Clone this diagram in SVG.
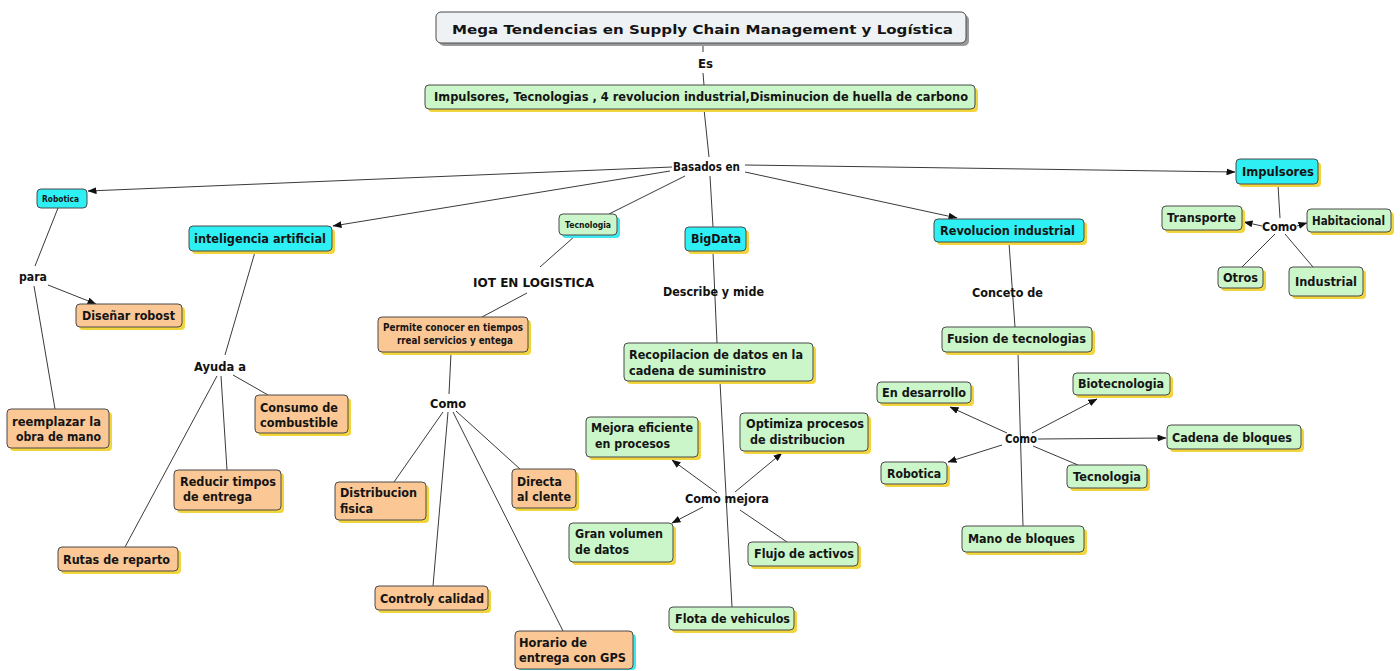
<svg xmlns="http://www.w3.org/2000/svg" width="1400" height="671" viewBox="0 0 1400 671">
<style>
.bx{stroke:#4a4a4a;stroke-width:1}
.cy{fill:#2ef0f4}
.gr{fill:#cbf6c9}
.or{fill:#fbc795}
.sh{fill:#f2d53c}
.shc{fill:#3ee8f0}
.t{font-family:"DejaVu Sans","Liberation Sans",sans-serif;font-weight:bold;font-size:13px;fill:#141414}
.s{font-size:9px}
.m{font-size:11px}
.lb{font-family:"DejaVu Sans","Liberation Sans",sans-serif;font-weight:bold;font-size:12.5px;fill:#111}
.c line{stroke:#3a3a3a;stroke-width:1}
.a{marker-end:url(#ah)}
</style>
<defs>
<marker id="ah" markerWidth="9" markerHeight="7" refX="8.5" refY="3.5" orient="auto" markerUnits="userSpaceOnUse">
<path d="M0,0 L9,3.5 L0,7 z" fill="#111"/>
</marker>
</defs>
<rect width="1400" height="671" fill="#fff"/>

<g id="connectors" class="c">
<line x1="703" y1="42" x2="703" y2="52"/>
<line x1="703" y1="73" x2="704" y2="85"/>
<line x1="704" y1="109" x2="709" y2="157"/>
<line x1="710" y1="176" x2="713" y2="227"/>
<line class="a" x1="672" y1="167" x2="88" y2="191"/>
<line class="a" x1="670" y1="171" x2="333" y2="226"/>
<line x1="685" y1="176" x2="609" y2="214"/>
<line class="a" x1="745" y1="172" x2="957" y2="218"/>
<line class="a" x1="745" y1="165" x2="1235" y2="172"/>
<line x1="58" y1="208" x2="35" y2="266"/>
<line class="a" x1="48" y1="285" x2="96" y2="304"/>
<line x1="34" y1="286" x2="55" y2="409"/>
<line x1="255" y1="252" x2="225" y2="355"/>
<line x1="233" y1="375" x2="268" y2="395"/>
<line x1="221" y1="376" x2="227" y2="470"/>
<line x1="217" y1="376" x2="125" y2="547"/>
<line x1="575" y1="236" x2="540" y2="267"/>
<line x1="527" y1="293" x2="482" y2="317"/>
<line x1="451" y1="353" x2="449" y2="394"/>
<line x1="443" y1="412" x2="394" y2="482"/>
<line x1="448" y1="412" x2="433" y2="586"/>
<line x1="453" y1="412" x2="563" y2="631"/>
<line x1="456" y1="411" x2="520" y2="469"/>
<line x1="713" y1="252" x2="717" y2="343"/>
<line x1="720" y1="382" x2="732" y2="607"/>
<line class="a" x1="717" y1="493" x2="672" y2="460"/>
<line class="a" x1="735" y1="492" x2="782" y2="453"/>
<line class="a" x1="703" y1="507" x2="672" y2="523"/>
<line x1="740" y1="510" x2="787" y2="542"/>
<line x1="1009" y1="243" x2="1015" y2="327"/>
<line x1="1018" y1="353" x2="1023" y2="526"/>
<line class="a" x1="1007" y1="433" x2="950" y2="407"/>
<line class="a" x1="1032" y1="433" x2="1097" y2="399"/>
<line class="a" x1="1038" y1="439" x2="1166" y2="438"/>
<line class="a" x1="1002" y1="445" x2="948" y2="462"/>
<line x1="1033" y1="446" x2="1078" y2="465"/>
<line x1="1278" y1="185" x2="1280" y2="218"/>
<line class="a" x1="1262" y1="226" x2="1244" y2="222"/>
<line class="a" x1="1297" y1="226" x2="1307" y2="223"/>
<line x1="1275" y1="234" x2="1242" y2="267"/>
<line x1="1285" y1="234" x2="1313" y2="267"/>
</g>

<g id="labels">
<text class="lb" x="698" y="68" textLength="15" lengthAdjust="spacingAndGlyphs">Es</text>
<rect x="672" y="158" width="70" height="16" fill="#fff"/>
<text class="lb" x="673" y="171" textLength="67" lengthAdjust="spacingAndGlyphs">Basados en</text>
<text class="lb" x="19" y="281" textLength="28" lengthAdjust="spacingAndGlyphs">para</text>
<text class="lb" x="194" y="371" textLength="52" lengthAdjust="spacingAndGlyphs">Ayuda a</text>
<text class="lb" x="473" y="287" font-size="14" textLength="121" lengthAdjust="spacingAndGlyphs">IOT EN LOGISTICA</text>
<text class="lb" x="430" y="408" textLength="36" lengthAdjust="spacingAndGlyphs">Como</text>
<text class="lb" x="663" y="296" textLength="101" lengthAdjust="spacingAndGlyphs">Describe y mide</text>
<text class="lb" x="685" y="503" textLength="84" lengthAdjust="spacingAndGlyphs">Como mejora</text>
<text class="lb" x="972" y="297" textLength="71" lengthAdjust="spacingAndGlyphs">Conceto de</text>
<text class="lb" x="1005" y="443" font-size="11" textLength="32" lengthAdjust="spacingAndGlyphs">Como</text>
<text class="lb" x="1262" y="231" textLength="35" lengthAdjust="spacingAndGlyphs">Como</text>
</g>

<g id="title">
<rect x="439" y="15" width="530" height="31" rx="5" fill="#9a9a9a"/>
<rect class="bx" x="436" y="12" width="530" height="31" rx="5" fill="#eef2f4" stroke="#333"/>
<text class="t" x="452" y="34" font-size="18" textLength="501" lengthAdjust="spacingAndGlyphs">Mega Tendencias en Supply Chain Management y Logística</text>
</g>

<g id="main">
<rect class="sh" x="428" y="88" width="550" height="24" rx="4"/>
<rect class="bx gr" x="425" y="85" width="550" height="24" rx="4"/>
<text class="t" x="434" y="101" font-size="12.5" textLength="534" lengthAdjust="spacingAndGlyphs">Impulsores, Tecnologias , 4 revolucion industrial,Disminucion de huella de carbono</text>
</g>

<g id="robotica">
<rect class="bx cy" x="37" y="189" width="50" height="19" rx="4"/>
<text class="t s" x="42" y="202" textLength="37" lengthAdjust="spacingAndGlyphs">Robotica</text>
</g>

<g id="disenar">
<rect class="sh" x="79" y="307" width="106" height="23" rx="4"/>
<rect class="bx or" x="76" y="304" width="106" height="23" rx="4"/>
<text class="t" x="82" y="320" textLength="93" lengthAdjust="spacingAndGlyphs">Diseñar robost</text>
</g>

<g id="reemplazar">
<rect class="sh" x="10" y="412" width="102" height="39" rx="4"/>
<rect class="bx or" x="7" y="409" width="102" height="39" rx="4"/>
<text class="t" x="12" y="426" textLength="89" lengthAdjust="spacingAndGlyphs">reemplazar la</text>
<text class="t" x="16" y="441" textLength="85" lengthAdjust="spacingAndGlyphs">obra de mano</text>
</g>

<g id="ia">
<rect class="sh" x="192" y="229" width="143" height="25" rx="4"/>
<rect class="bx cy" x="189" y="226" width="143" height="25" rx="4"/>
<text class="t" x="194" y="243" textLength="132" lengthAdjust="spacingAndGlyphs">inteligencia artificial</text>
</g>

<g id="consumo">
<rect class="sh" x="258" y="398" width="93" height="38" rx="4"/>
<rect class="bx or" x="255" y="395" width="93" height="38" rx="4"/>
<text class="t" x="260" y="412" textLength="78" lengthAdjust="spacingAndGlyphs">Consumo de</text>
<text class="t" x="260" y="427" textLength="78" lengthAdjust="spacingAndGlyphs">combustible</text>
</g>

<g id="reducir">
<rect class="sh" x="177" y="473" width="107" height="40" rx="4"/>
<rect class="bx or" x="174" y="470" width="107" height="40" rx="4"/>
<text class="t" x="180" y="486" textLength="96" lengthAdjust="spacingAndGlyphs">Reducir timpos</text>
<text class="t" x="183" y="501" textLength="69" lengthAdjust="spacingAndGlyphs">de entrega</text>
</g>

<g id="rutas">
<rect class="sh" x="61" y="550" width="120" height="24" rx="4"/>
<rect class="bx or" x="58" y="547" width="120" height="24" rx="4"/>
<text class="t" x="63" y="564" textLength="107" lengthAdjust="spacingAndGlyphs">Rutas de reparto</text>
</g>

<g id="tecnologia">
<rect class="shc" x="562" y="217" width="58" height="21" rx="4"/>
<rect class="bx gr" x="559" y="214" width="58" height="21" rx="4"/>
<text class="t s" x="565" y="228" textLength="46" lengthAdjust="spacingAndGlyphs">Tecnologia</text>
</g>

<g id="permite">
<rect class="sh" x="381" y="320" width="150" height="35" rx="4"/>
<rect class="bx or" x="378" y="317" width="150" height="35" rx="4"/>
<text class="t m" x="383" y="331" textLength="140" lengthAdjust="spacingAndGlyphs">Permite conocer en tiempos</text>
<text class="t m" x="397" y="344" textLength="116" lengthAdjust="spacingAndGlyphs">rreal servicios y entega</text>
</g>

<g id="distribucion">
<rect class="sh" x="338" y="485" width="91" height="38" rx="4"/>
<rect class="bx or" x="335" y="482" width="91" height="38" rx="4"/>
<text class="t" x="340" y="497" textLength="77" lengthAdjust="spacingAndGlyphs">Distribucion</text>
<text class="t" x="340" y="513" textLength="33" lengthAdjust="spacingAndGlyphs">fisica</text>
</g>

<g id="directa">
<rect class="sh" x="515" y="472" width="64" height="39" rx="4"/>
<rect class="bx or" x="512" y="469" width="64" height="39" rx="4"/>
<text class="t" x="517" y="486" textLength="45" lengthAdjust="spacingAndGlyphs">Directa</text>
<text class="t" x="517" y="501" textLength="54" lengthAdjust="spacingAndGlyphs">al clente</text>
</g>

<g id="controly">
<rect class="sh" x="378" y="589" width="113" height="24" rx="4"/>
<rect class="bx or" x="375" y="586" width="113" height="24" rx="4"/>
<text class="t" x="380" y="603" textLength="104" lengthAdjust="spacingAndGlyphs">Controly calidad</text>
</g>

<g id="horario">
<rect class="shc" x="518" y="634" width="118" height="36" rx="4"/>
<rect class="bx or" x="515" y="631" width="118" height="38" rx="4"/>
<text class="t" x="519" y="647" textLength="68" lengthAdjust="spacingAndGlyphs">Horario de</text>
<text class="t" x="519" y="662" textLength="107" lengthAdjust="spacingAndGlyphs">entrega con GPS</text>
</g>

<g id="bigdata">
<rect class="sh" x="688" y="230" width="61" height="24" rx="4"/>
<rect class="bx cy" x="685" y="227" width="61" height="24" rx="4"/>
<text class="t" x="691" y="243" textLength="50" lengthAdjust="spacingAndGlyphs">BigData</text>
</g>

<g id="recopilacion">
<rect class="sh" x="627" y="346" width="189" height="38" rx="4"/>
<rect class="bx gr" x="624" y="343" width="189" height="38" rx="4"/>
<text class="t" x="629" y="359" textLength="174" lengthAdjust="spacingAndGlyphs">Recopilacion de datos en la</text>
<text class="t" x="629" y="375" textLength="137" lengthAdjust="spacingAndGlyphs">cadena de suministro</text>
</g>

<g id="mejora">
<rect class="sh" x="589" y="420" width="112" height="40" rx="4"/>
<rect class="bx gr" x="586" y="417" width="112" height="40" rx="4"/>
<text class="t" x="591" y="432" textLength="102" lengthAdjust="spacingAndGlyphs">Mejora eficiente</text>
<text class="t" x="595" y="448" textLength="75" lengthAdjust="spacingAndGlyphs">en procesos</text>
</g>

<g id="optimiza">
<rect class="sh" x="743" y="416" width="128" height="38" rx="4"/>
<rect class="bx gr" x="740" y="413" width="128" height="38" rx="4"/>
<text class="t" x="746" y="428" textLength="118" lengthAdjust="spacingAndGlyphs">Optimiza procesos</text>
<text class="t" x="750" y="444" textLength="95" lengthAdjust="spacingAndGlyphs">de distribucion</text>
</g>

<g id="gran">
<rect class="sh" x="572" y="526" width="104" height="39" rx="4"/>
<rect class="bx gr" x="569" y="523" width="104" height="39" rx="4"/>
<text class="t" x="575" y="538" textLength="88" lengthAdjust="spacingAndGlyphs">Gran volumen</text>
<text class="t" x="575" y="554" textLength="54" lengthAdjust="spacingAndGlyphs">de datos</text>
</g>

<g id="flujo">
<rect class="sh" x="751" y="545" width="110" height="24" rx="4"/>
<rect class="bx gr" x="748" y="542" width="110" height="24" rx="4"/>
<text class="t" x="754" y="558" textLength="100" lengthAdjust="spacingAndGlyphs">Flujo de activos</text>
</g>

<g id="flota">
<rect class="sh" x="672" y="610" width="125" height="23" rx="4"/>
<rect class="bx gr" x="669" y="607" width="125" height="23" rx="4"/>
<text class="t" x="675" y="623" textLength="115" lengthAdjust="spacingAndGlyphs">Flota de vehiculos</text>
</g>

<g id="revolucion">
<rect class="sh" x="937" y="222" width="150" height="23" rx="4"/>
<rect class="bx cy" x="934" y="219" width="150" height="23" rx="4"/>
<text class="t" x="940" y="235" textLength="135" lengthAdjust="spacingAndGlyphs">Revolucion industrial</text>
</g>

<g id="fusion">
<rect class="sh" x="945" y="330" width="150" height="25" rx="4"/>
<rect class="bx gr" x="942" y="327" width="150" height="25" rx="4"/>
<text class="t" x="947" y="343" textLength="139" lengthAdjust="spacingAndGlyphs">Fusion de tecnologias</text>
</g>

<g id="desarrollo">
<rect class="sh" x="880" y="385" width="94" height="21" rx="4"/>
<rect class="bx gr" x="877" y="382" width="94" height="21" rx="4"/>
<text class="t" x="882" y="397" textLength="84" lengthAdjust="spacingAndGlyphs">En desarrollo</text>
</g>

<g id="biotecnologia">
<rect class="sh" x="1076" y="376" width="97" height="22" rx="4"/>
<rect class="bx gr" x="1073" y="373" width="97" height="22" rx="4"/>
<text class="t" x="1078" y="388" textLength="86" lengthAdjust="spacingAndGlyphs">Biotecnologia</text>
</g>

<g id="robotica2">
<rect class="sh" x="884" y="465" width="66" height="22" rx="4"/>
<rect class="bx gr" x="881" y="462" width="66" height="22" rx="4"/>
<text class="t" x="887" y="478" textLength="54" lengthAdjust="spacingAndGlyphs">Robotica</text>
</g>

<g id="tecnologia2">
<rect class="sh" x="1070" y="468" width="80" height="23" rx="4"/>
<rect class="bx gr" x="1067" y="465" width="80" height="23" rx="4"/>
<text class="t" x="1073" y="481" textLength="68" lengthAdjust="spacingAndGlyphs">Tecnologia</text>
</g>

<g id="mano">
<rect class="sh" x="965" y="529" width="122" height="26" rx="4"/>
<rect class="bx gr" x="962" y="526" width="122" height="26" rx="4"/>
<text class="t" x="968" y="543" textLength="107" lengthAdjust="spacingAndGlyphs">Mano de bloques</text>
</g>

<g id="cadena">
<rect class="sh" x="1170" y="428" width="134" height="24" rx="4"/>
<rect class="bx gr" x="1167" y="425" width="134" height="24" rx="4"/>
<text class="t" x="1172" y="442" textLength="120" lengthAdjust="spacingAndGlyphs">Cadena de bloques</text>
</g>

<g id="impulsores">
<rect class="sh" x="1239" y="162" width="82" height="25" rx="4"/>
<rect class="bx cy" x="1236" y="159" width="82" height="25" rx="4"/>
<text class="t" x="1242" y="176" textLength="72" lengthAdjust="spacingAndGlyphs">Impulsores</text>
</g>

<g id="transporte">
<rect class="sh" x="1165" y="209" width="80" height="24" rx="4"/>
<rect class="bx gr" x="1162" y="206" width="80" height="24" rx="4"/>
<text class="t" x="1167" y="222" textLength="69" lengthAdjust="spacingAndGlyphs">Transporte</text>
</g>

<g id="habitacional">
<rect class="sh" x="1310" y="212" width="84" height="23" rx="4"/>
<rect class="bx gr" x="1307" y="209" width="84" height="23" rx="4"/>
<text class="t" x="1312" y="225" font-size="10.5" textLength="73" lengthAdjust="spacingAndGlyphs">Habitacional</text>
</g>

<g id="otros">
<rect class="sh" x="1221" y="270" width="45" height="21" rx="4"/>
<rect class="bx gr" x="1218" y="267" width="45" height="21" rx="4"/>
<text class="t" x="1223" y="282" textLength="35" lengthAdjust="spacingAndGlyphs">Otros</text>
</g>

<g id="industrial">
<rect class="sh" x="1292" y="270" width="74" height="29" rx="4"/>
<rect class="bx gr" x="1289" y="267" width="74" height="29" rx="4"/>
<text class="t" x="1295" y="286" textLength="62" lengthAdjust="spacingAndGlyphs">Industrial</text>
</g>
</svg>
